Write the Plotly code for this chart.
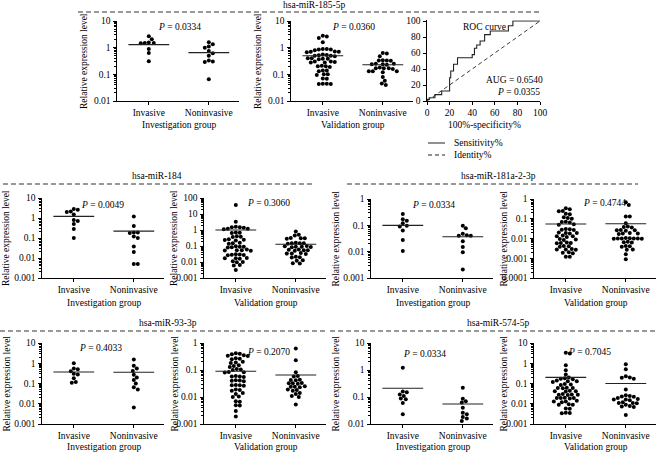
import numpy as np
import plotly.graph_objects as go

W, H = 661, 454
FONT = "Liberation Serif"
FS = 9.5

categories = ["Invasive", "Noninvasive"]

# ---------------- data ----------------
# hsa-miR-185-5p
mir185_inv_invasive = [2.7, 2.05, 1.5, 1.5, 1.45, 1.55, 0.9, 0.63, 0.31]
mir185_inv_noninvasive = [1.6, 1.35, 1.1, 1.0, 0.75, 0.62, 0.5, 0.3, 0.29, 0.33, 0.066]
mir185_val_invasive = [2.8, 2.6, 2.3, 1.6, 0.9, 0.85, 0.85, 0.8, 0.9, 0.7, 0.72, 0.68, 0.7,
                       0.55, 0.52, 0.5, 0.5, 0.48, 0.53, 0.4, 0.38, 0.38, 0.4, 0.37, 0.3,
                       0.29, 0.28, 0.3, 0.28, 0.2, 0.21, 0.19, 0.2, 0.14, 0.14, 0.13, 0.1,
                       0.095, 0.1, 0.07, 0.068, 0.044, 0.043, 0.043, 0.044]
mir185_val_noninvasive = [0.63, 0.6, 0.48, 0.33, 0.34, 0.32, 0.33, 0.25, 0.24, 0.23, 0.24,
                          0.25, 0.17, 0.18, 0.16, 0.17, 0.17, 0.13, 0.12, 0.13, 0.13, 0.08,
                          0.058, 0.045, 0.04]
mir185_means = [1.3, 0.65, 0.5, 0.23]

# ROC curve (hsa-miR-185-5p)
roc_fpr = [0, 0, 2, 2, 7, 7, 13, 13, 20, 20, 21, 21, 23.5, 23.5, 27, 27, 40, 40, 42, 42,
           44, 44, 47, 47, 51, 51, 56, 56, 72, 72, 76, 76, 100]
roc_tpr = [0, 2, 2, 4, 4, 8, 8, 12.5, 12.5, 29, 29, 37.5, 37.5, 46, 46, 54, 54, 58, 58, 66,
           66, 70, 70, 75, 75, 83, 83, 87.5, 87.5, 94, 94, 100, 100]
identity = [0, 100]

# hsa-miR-184
mir184_inv_invasive = [2.8, 2.6, 2.1, 2.0, 1.5, 0.8, 0.7, 0.5, 0.28, 0.1]
mir184_inv_noninvasive = [1.2, 0.4, 0.19, 0.18, 0.19, 0.12, 0.1, 0.038, 0.02, 0.005, 0.005]
mir184_val_invasive = [36, 3.3, 1.5, 1.6, 1.4, 1.5, 1.2, 1.1, 1.2, 0.7, 0.65, 0.68, 0.4, 0.38,
                       0.36, 0.25, 0.24, 0.22, 0.26, 0.15, 0.16, 0.14, 0.09, 0.095, 0.085,
                       0.09, 0.08, 0.055, 0.06, 0.05, 0.055, 0.052, 0.028, 0.03, 0.026,
                       0.027, 0.029, 0.017, 0.018, 0.016, 0.017, 0.01, 0.011, 0.0095,
                       0.0065, 0.006, 0.0032]
mir184_val_noninvasive = [0.8, 0.5, 0.45, 0.3, 0.32, 0.28, 0.3, 0.15, 0.16, 0.14, 0.15, 0.15,
                          0.09, 0.1, 0.085, 0.09, 0.095, 0.088, 0.055, 0.06, 0.05, 0.055,
                          0.058, 0.034, 0.036, 0.032, 0.034, 0.02, 0.021, 0.019, 0.013,
                          0.012, 0.008, 0.0085]
mir184_means = [1.2, 0.22, 1.0, 0.13]

# hsa-miR-181a-2-3p
mir181_inv_invasive = [0.27, 0.17, 0.15, 0.12, 0.097, 0.091, 0.063, 0.028, 0.0105]
mir181_inv_noninvasive = [0.097, 0.077, 0.048, 0.04, 0.042, 0.04, 0.025, 0.015, 0.0096, 0.0021]
mir181_val_invasive = [0.34, 0.3, 0.25, 0.24, 0.18, 0.17, 0.11, 0.12, 0.1, 0.068, 0.07, 0.065,
                       0.05, 0.052, 0.028, 0.03, 0.027, 0.029, 0.019, 0.02, 0.018, 0.019,
                       0.013, 0.014, 0.012, 0.013, 0.009, 0.0095, 0.0085, 0.006, 0.0062,
                       0.0058, 0.006, 0.004, 0.0042, 0.0038, 0.0028, 0.0029, 0.0027,
                       0.0028, 0.0019, 0.002, 0.0018, 0.0012, 0.0012]
mir181_val_noninvasive = [0.68, 0.5, 0.13, 0.13, 0.06, 0.038, 0.04, 0.036, 0.026, 0.027,
                          0.025, 0.026, 0.018, 0.019, 0.017, 0.018, 0.01, 0.0105, 0.0098,
                          0.01, 0.0102, 0.0097, 0.01, 0.0099, 0.0065, 0.0068, 0.0062, 0.004,
                          0.0042, 0.0038, 0.0028, 0.0027, 0.0016, 0.0009]
mir181_means = [0.1, 0.037, 0.054, 0.056]

# hsa-miR-93-3p
mir93_inv_invasive = [1.0, 0.55, 0.5, 0.4, 0.3, 0.28, 0.18, 0.11, 0.12]
mir93_inv_noninvasive = [1.55, 0.75, 0.55, 0.42, 0.27, 0.2, 0.15, 0.1, 0.065, 0.05, 0.0066]
mir93_val_invasive = [0.42, 0.38, 0.4, 0.34, 0.33, 0.35, 0.26, 0.27, 0.25, 0.19, 0.2, 0.18,
                      0.14, 0.15, 0.13, 0.11, 0.1, 0.105, 0.082, 0.085, 0.08, 0.057, 0.06,
                      0.055, 0.058, 0.04, 0.042, 0.038, 0.041, 0.027, 0.028, 0.026, 0.027,
                      0.018, 0.019, 0.017, 0.014, 0.013, 0.01, 0.0105, 0.0067, 0.007,
                      0.0048, 0.005, 0.003, 0.0019]
mir93_val_noninvasive = [0.63, 0.23, 0.082, 0.057, 0.06, 0.043, 0.044, 0.042, 0.032, 0.033,
                         0.031, 0.032, 0.024, 0.025, 0.023, 0.024, 0.018, 0.019, 0.017,
                         0.014, 0.013, 0.01, 0.011, 0.0053]
mir93_means = [0.37, 0.36, 0.09, 0.065]

# hsa-miR-574-5p
mir574_inv_invasive = [1.2, 0.15, 0.16, 0.125, 0.11, 0.082, 0.088, 0.06, 0.023]
mir574_inv_noninvasive = [0.22, 0.087, 0.07, 0.062, 0.04, 0.026, 0.023, 0.018, 0.016, 0.013]
mir574_val_invasive = [3.3, 3.0, 0.8, 0.45, 0.28, 0.2, 0.18, 0.17, 0.16, 0.13, 0.14, 0.12,
                       0.13, 0.09, 0.095, 0.085, 0.06, 0.062, 0.058, 0.06, 0.042, 0.044,
                       0.04, 0.042, 0.028, 0.029, 0.027, 0.028, 0.03, 0.019, 0.02, 0.018,
                       0.019, 0.0195, 0.013, 0.014, 0.012, 0.013, 0.009, 0.0095, 0.0088,
                       0.0056, 0.0058, 0.0035, 0.0036, 0.0034]
mir574_val_noninvasive = [0.9, 0.5, 0.23, 0.2, 0.19, 0.17, 0.05, 0.026, 0.023, 0.024, 0.022,
                          0.019, 0.016, 0.017, 0.015, 0.016, 0.011, 0.012, 0.0105, 0.011,
                          0.009, 0.0074, 0.0078, 0.007, 0.0028]
mir574_means = [0.21, 0.055, 0.2, 0.1]

p_values = ["0.0334", "0.0360", "0.0049", "0.3060", "0.0334", "0.4744",
            "0.4033", "0.2070", "0.0334", "0.7045"]
roc_auc_text = "AUG = 0.6540"
roc_p = "0.0355"

# ---------------- layout (pixel geometry) ----------------
panels = [
    dict(inv=mir185_inv_invasive, non=mir185_inv_noninvasive, means=mir185_means[0:2],
         exps=(-2, 1), x0=117, yt=21, yb=101, p=p_values[0], group="Investigation group",
         pxy=(179, 27), ttl=(84, 125)),
    dict(inv=mir185_val_invasive, non=mir185_val_noninvasive, means=mir185_means[2:4],
         exps=(-2, 1), x0=291, yt=21, yb=101, p=p_values[1], group="Validation group",
         pxy=(353, 27), ttl=(258, 125)),
    dict(inv=mir184_inv_invasive, non=mir184_inv_noninvasive, means=mir184_means[0:2],
         exps=(-3, 1), x0=42, yt=198, yb=278, p=p_values[2], group="Investigation group",
         pxy=(102, 205), ttl=(6, 303)),
    dict(inv=mir184_val_invasive, non=mir184_val_noninvasive, means=mir184_means[2:4],
         exps=(-3, 2), x0=204, yt=198, yb=278, p=p_values[3], group="Validation group",
         pxy=(268, 203), ttl=(174, 303)),
    dict(inv=mir181_inv_invasive, non=mir181_inv_noninvasive, means=mir181_means[0:2],
         exps=(-3, 0), x0=371, yt=199, yb=278, p=p_values[4], group="Investigation group",
         pxy=(433, 205), ttl=(335, 303)),
    dict(inv=mir181_val_invasive, non=mir181_val_noninvasive, means=mir181_means[2:4],
         exps=(-4, 0), x0=534, yt=199, yb=278, p=p_values[5], group="Validation group",
         pxy=(604, 203), ttl=(503, 303)),
    dict(inv=mir93_inv_invasive, non=mir93_inv_noninvasive, means=mir93_means[0:2],
         exps=(-3, 1), x0=42, yt=343, yb=424, p=p_values[6], group="Investigation group",
         pxy=(100, 348), ttl=(6, 447)),
    dict(inv=mir93_val_invasive, non=mir93_val_noninvasive, means=mir93_means[2:4],
         exps=(-3, 0), x0=204, yt=343, yb=424, p=p_values[7], group="Validation group",
         pxy=(268, 352), ttl=(174, 447)),
    dict(inv=mir574_inv_invasive, non=mir574_inv_noninvasive, means=mir574_means[0:2],
         exps=(-2, 1), x0=371, yt=343, yb=424, p=p_values[8], group="Investigation group",
         pxy=(425, 354), ttl=(335, 447)),
    dict(inv=mir574_val_invasive, non=mir574_val_noninvasive, means=mir574_means[2:4],
         exps=(-3, 1), x0=534, yt=343, yb=424, p=p_values[9], group="Validation group",
         pxy=(589, 352), ttl=(503, 447)),
]

sections = [
    dict(title="hsa-miR-185-5p", tx=314, ty=5, ly=12, lx0=78, lx1=542),
    dict(title="hsa-miR-184", tx=157, ty=176, ly=184, lx0=3, lx1=312),
    dict(title="hsa-miR-181a-2-3p", tx=498, ty=176, ly=184, lx0=347, lx1=638),
    dict(title="hsa-miR-93-3p", tx=168, ty=323, ly=331, lx0=0, lx1=328),
    dict(title="hsa-miR-574-5p", tx=498, ty=323, ly=331, lx0=330, lx1=658),
]

XR = (-0.53, 1.5)
SPACING = 60.0
MS = 4.0
COLLIDE = 3.9
STEP = 1.0


def fx(p):
    return p / W


def fy(p):
    return 1 - p / H


def swarm(vals, center, ppu_x, ppd_y, d, step):
    order = sorted(range(len(vals)), key=lambda i: -vals[i])
    placed = []
    xs = [0.0] * len(vals)
    cands = [0.0]
    for j in range(1, 80):
        cands += [j * step, -j * step]
    for i in order:
        ypx = np.log10(vals[i]) * ppd_y
        chosen = cands[-1]
        for c in cands:
            if all((c - a) ** 2 + (ypx - b) ** 2 >= d * d for a, b in placed):
                chosen = c
                break
        placed.append((chosen, ypx))
        xs[i] = center + chosen / ppu_x
    return xs


fig = go.Figure()
layout = dict(annotations=[], shapes=[])
axis_common = dict(showline=True, linecolor="black", linewidth=1, showgrid=False,
                   zeroline=False, ticks="outside", tickcolor="black", tickwidth=1,
                   tickfont=dict(family=FONT, size=FS, color="black"))


def ann(text, x, y, angle=0, xanchor="center", size=FS):
    layout["annotations"].append(dict(text=text, x=fx(x), y=fy(y), xref="paper", yref="paper",
                                      showarrow=False, textangle=angle, xanchor=xanchor,
                                      yanchor="middle",
                                      font=dict(family=FONT, size=size, color="black")))


for i, P in enumerate(panels, start=1):
    xk = "xaxis" if i == 1 else f"xaxis{i}"
    yk = "yaxis" if i == 1 else f"yaxis{i}"
    xr = "x" if i == 1 else f"x{i}"
    yr = "y" if i == 1 else f"y{i}"
    x1 = P["x0"] + (XR[1] - XR[0]) * SPACING
    lo, hi = P["exps"]
    ppd = (P["yb"] - P["yt"]) / (hi - lo)
    tickvals = [10.0 ** e for e in range(lo, hi + 1)]
    ticktext = [("%g" % v) if v >= 1 else ("%." + str(-e) + "f") % v
                for e, v in zip(range(lo, hi + 1), tickvals)]
    minor_vals = [m * 10.0 ** e for e in range(lo, hi) for m in range(2, 10)]
    layout[xk] = dict(axis_common, domain=[fx(P["x0"]), fx(x1)], range=list(XR),
                      tickvals=[0, 1], ticktext=categories, ticklen=3, anchor=yr)
    layout[yk] = dict(axis_common, domain=[fy(P["yb"]), fy(P["yt"])], type="log",
                      range=[lo, hi], tickvals=tickvals, ticktext=ticktext, ticklen=3.5,
                      minor=dict(tickvals=minor_vals, ticks="outside", ticklen=1.8,
                                 tickcolor="black", tickwidth=0.8),
                      anchor=xr)
    for c, vals in enumerate([P["inv"], P["non"]]):
        xs = swarm(vals, c, SPACING, ppd, COLLIDE, STEP)
        fig.add_trace(go.Scatter(x=xs, y=vals, mode="markers", xaxis=xr, yaxis=yr,
                                 marker=dict(color="black", size=MS, line=dict(width=0)),
                                 showlegend=False, hoverinfo="y"))
        m = P["means"][c]
        fig.add_trace(go.Scatter(x=[c - 0.34, c + 0.34], y=[m, m], mode="lines",
                                 xaxis=xr, yaxis=yr, line=dict(color="#222", width=1.1),
                                 showlegend=False, hoverinfo="skip"))
    ann("<i>P</i> = " + P["p"], P["pxy"][0], P["pxy"][1])
    ymid = (P["yt"] + P["yb"]) / 2
    ann("Relative expression level", P["ttl"][0], ymid, angle=-90)
    ann(P["group"], P["x0"] + (0.5 - XR[0]) * SPACING, P["ttl"][1])

# ROC panel
ri = len(panels) + 1
rx0, rx1, ryt, ryb = 427, 540, 20.2, 101
layout[f"xaxis{ri}"] = dict(axis_common, domain=[fx(rx0), fx(rx1)], range=[0, 100],
                            tickvals=[0, 20, 40, 60, 80, 100], ticklen=3, anchor=f"y{ri}")
layout[f"yaxis{ri}"] = dict(axis_common, domain=[fy(ryb), fy(ryt)], range=[0, 101],
                            tickvals=[0, 20, 40, 60, 80, 100], ticklen=3.5, anchor=f"x{ri}")
fig.add_trace(go.Scatter(x=roc_fpr, y=roc_tpr, mode="lines", name="Sensitivity%",
                         xaxis=f"x{ri}", yaxis=f"y{ri}", line=dict(color="#222", width=1.1),
                         showlegend=False))
fig.add_trace(go.Scatter(x=identity, y=identity, mode="lines", name="Identity%",
                         xaxis=f"x{ri}", yaxis=f"y{ri}",
                         line=dict(color="#222", width=0.9, dash="4px,3px"),
                         showlegend=False))
ann("ROC curve", 484, 27)
ann(roc_auc_text, 514, 80)
ann("<i>P</i> = " + roc_p, 518, 92)
ann("100%-specificity%", 485, 125)

# manual legend for the ROC panel
for name, yy, dash in [("Sensitivity%", 143, "solid"), ("Identity%", 155, "4px,3px")]:
    layout["shapes"].append(dict(type="line", xref="paper", yref="paper",
                                 x0=fx(428), x1=fx(445), y0=fy(yy), y1=fy(yy),
                                 line=dict(color="#222", width=1, dash=dash)))
    ann(name, 452, yy, xanchor="left")

# section titles and dashed separators
for S in sections:
    ann(S["title"], S["tx"], S["ty"])
    layout["shapes"].append(dict(type="line", xref="paper", yref="paper",
                                 x0=fx(S["lx0"]), x1=fx(S["lx1"]), y0=fy(S["ly"]),
                                 y1=fy(S["ly"]),
                                 line=dict(color="#333", width=1, dash="5px,3px")))

fig.update_layout(**layout)
fig.update_layout(width=W, height=H, margin=dict(l=0, r=0, t=0, b=0),
                  paper_bgcolor="white", plot_bgcolor="white", template="none",
                  font=dict(family=FONT, size=FS, color="black"), showlegend=False)
fig.write_html("out.html", config={"displayModeBar": False},
               post_script="document.body.style.margin='0px';")
